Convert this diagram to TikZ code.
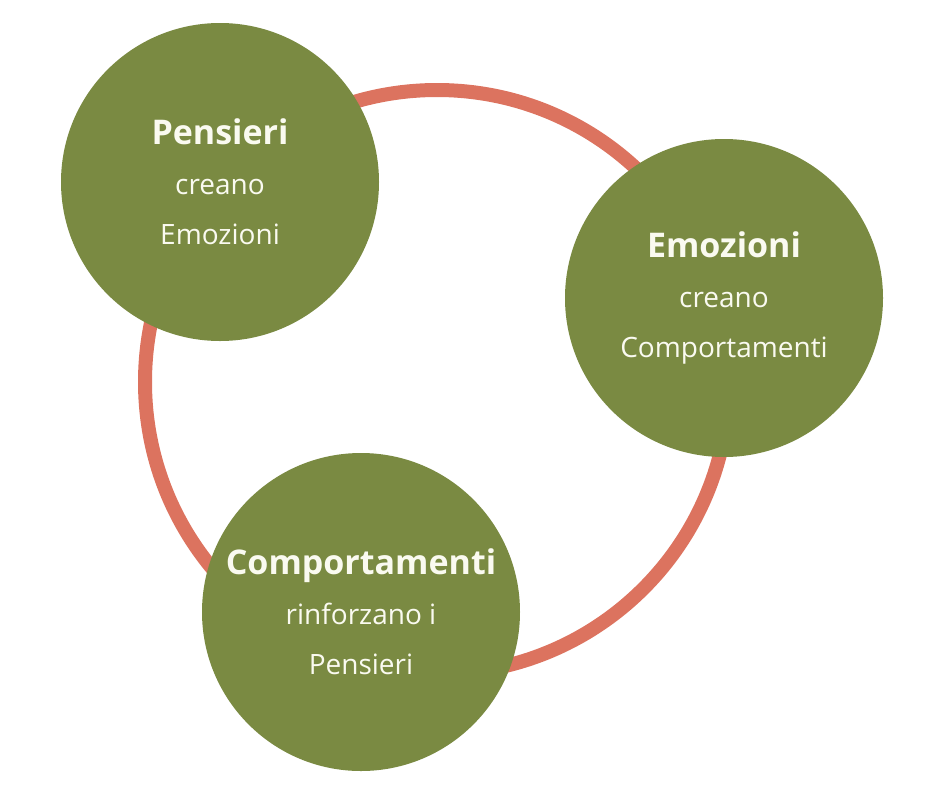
\documentclass[tikz,border=0pt]{standalone}
\usepackage{fontspec}
\setmainfont{Open Sans}
\definecolor{ring}{HTML}{DC735F}
\definecolor{leaf}{HTML}{7A8A42}
\definecolor{txt}{HTML}{FAFAF0}
\begin{document}
\begin{tikzpicture}[x=1pt,y=-1pt,
  bub/.style={circle,fill=leaf,minimum size=318pt,inner sep=0pt,text=txt,align=center,font=\fontsize{28}{50}\selectfont}]
\useasboundingbox (0,0) rectangle (940,788);
\draw[ring,line width=14pt] (437,382) circle[radius=292];
\node[bub] (p) at (220,182) {{\bfseries\fontsize{34}{50}\selectfont Pensieri}\\creano\\Emozioni};
\node[bub] (e) at (724,298) {{\bfseries\fontsize{34}{50}\selectfont Emozioni}\\creano\\Comportamenti};
\node[bub] (c) at (361,612) {{\bfseries\fontsize{34}{50}\selectfont Comportamenti}\\rinforzano i\\Pensieri};
\end{tikzpicture}
\end{document}
